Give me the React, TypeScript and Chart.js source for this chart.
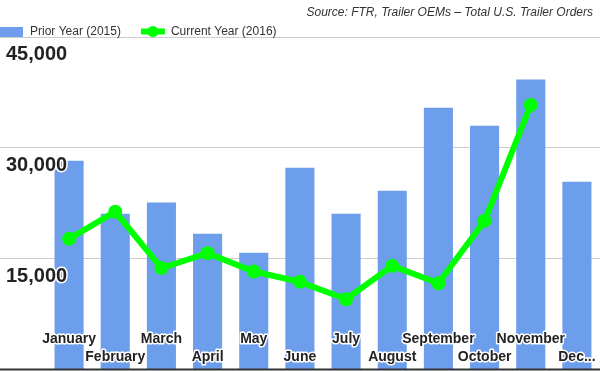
import React, { useEffect, useRef } from "react";
import { Chart, registerables } from "chart.js";

Chart.register(...registerables);

const months = [
  "January", "February", "March", "April", "May", "June",
  "July", "August", "September", "October", "November", "December",
];
const priorYear2015 = [28260, 21080, 22610, 18370, 15790, 27310, 21080, 24190, 35440, 33000, 39240, 25410];
const currentYear2016 = [17690, 21350, 13720, 15750, 13260, 11860, 9510, 14030, 11680, 20130, 35810, null];
const yTicks = [0, 15000, 30000, 45000];
const priorLabel = "Prior Year (2015)";
const currentLabel = "Current Year (2016)";
const sourceText = "Source: FTR, Trailer OEMs \u2013 Total U.S. Trailer Orders";

const BAR_COLOR = "#6d9eeb";
const LINE_COLOR = "#00ff00";
const FONT = 'Arial, "Liberation Sans", sans-serif';

const overlayPlugin = {
  id: "overlay",
  afterDatasetsDraw(chart: any) {
    const ctx = chart.ctx as CanvasRenderingContext2D;
    const ys = chart.scales.y;
    const xs = chart.scales.x;
    const area = chart.chartArea;
    ctx.save();
    const y0 = ys.getPixelForValue(0);
    ctx.strokeStyle = "#333";
    ctx.lineWidth = 2;
    ctx.beginPath();
    ctx.moveTo(0, y0);
    ctx.lineTo(chart.width, y0);
    ctx.stroke();

    ctx.font = `bold 20px ${FONT}`;
    ctx.lineJoin = "round";
    ctx.lineWidth = 3;
    ctx.strokeStyle = "#fff";
    ctx.fillStyle = "#222";
    ctx.textAlign = "left";
    ctx.textBaseline = "alphabetic";
    yTicks.forEach((v) => {
      if (v === 0) return;
      const py = ys.getPixelForValue(v) + 23;
      const s = v.toLocaleString("en-US");
      ctx.strokeText(s, 6, py);
      ctx.fillText(s, 6, py);
    });

    ctx.font = `bold 14px ${FONT}`;
    ctx.textAlign = "center";
    const limit = chart.width - 3;
    months.forEach((m, i) => {
      const px = xs.getPixelForValue(i);
      let s = m;
      if (px + ctx.measureText(s).width / 2 > limit) {
        let base = m;
        while (base.length > 1) {
          base = base.slice(0, -1);
          s = base + "...";
          if (px + ctx.measureText(s).width / 2 <= limit) break;
        }
      }
      const py = area.bottom - (i % 2 === 0 ? 27 : 9);
      ctx.strokeText(s, px, py);
      ctx.fillText(s, px, py);
    });
    ctx.restore();
  },
  afterDraw(chart: any) {
    const ctx = chart.ctx as CanvasRenderingContext2D;
    ctx.save();
    ctx.font = `italic 12px ${FONT}`;
    ctx.fillStyle = "#333";
    ctx.textAlign = "right";
    ctx.textBaseline = "middle";
    ctx.fillText(sourceText, 593, 13);

    ctx.textAlign = "left";
    ctx.font = `12px ${FONT}`;
    ctx.fillStyle = BAR_COLOR;
    ctx.fillRect(0, 27, 23, 10);
    ctx.fillStyle = "#333";
    ctx.fillText(priorLabel, 30, 32);
    const x2 = 30 + ctx.measureText(priorLabel).width + 20;
    ctx.strokeStyle = LINE_COLOR;
    ctx.lineWidth = 6;
    ctx.beginPath();
    ctx.moveTo(x2, 31.5);
    ctx.lineTo(x2 + 24, 31.5);
    ctx.stroke();
    ctx.fillStyle = LINE_COLOR;
    ctx.beginPath();
    ctx.arc(x2 + 12, 31.5, 5.5, 0, Math.PI * 2);
    ctx.fill();
    ctx.fillStyle = "#333";
    ctx.fillText(currentLabel, x2 + 30, 32);
    ctx.restore();
  },
};

export default function App() {
  const ref = useRef<HTMLCanvasElement>(null);
  useEffect(() => {
    if (!ref.current) return;
    const chart = new Chart(ref.current, {
      type: "bar",
      data: {
        labels: months,
        datasets: [
          {
            type: "line",
            label: currentLabel,
            data: currentYear2016,
            borderColor: LINE_COLOR,
            backgroundColor: LINE_COLOR,
            borderWidth: 6,
            pointRadius: 7,
            pointBorderWidth: 0,
            pointBackgroundColor: LINE_COLOR,
            tension: 0,
            order: 0,
          } as any,
          {
            type: "bar",
            label: priorLabel,
            data: priorYear2015,
            backgroundColor: BAR_COLOR,
            borderWidth: 0,
            categoryPercentage: 1,
            barPercentage: 0.63,
            order: 1,
          },
        ],
      },
      options: {
        animation: false,
        responsive: false,
        maintainAspectRatio: false,
        devicePixelRatio: 1,
        events: [],
        layout: { autoPadding: false, padding: { top: 37, bottom: 1.5, left: 0, right: 0 } },
        plugins: {
          legend: { display: false },
          title: { display: false },
          tooltip: { enabled: false },
        },
        scales: {
          x: { display: false },
          y: {
            min: 0,
            max: 45000,
            afterBuildTicks: (s: any) => {
              s.ticks = yTicks.map((v) => ({ value: v }));
            },
            ticks: { display: false },
            border: { display: false },
            grid: {
              color: "#cccccc",
              lineWidth: 1,
              drawTicks: true,
              tickLength: 46,
            },
          },
        },
      },
      plugins: [overlayPlugin],
    });
    return () => chart.destroy();
  }, []);
  return (
    <div style={{ position: "fixed", left: 0, top: 0, width: 600, height: 371 }}>
      <canvas ref={ref} width={600} height={371} style={{ display: "block", width: 600, height: 371 }} />
    </div>
  );
}
